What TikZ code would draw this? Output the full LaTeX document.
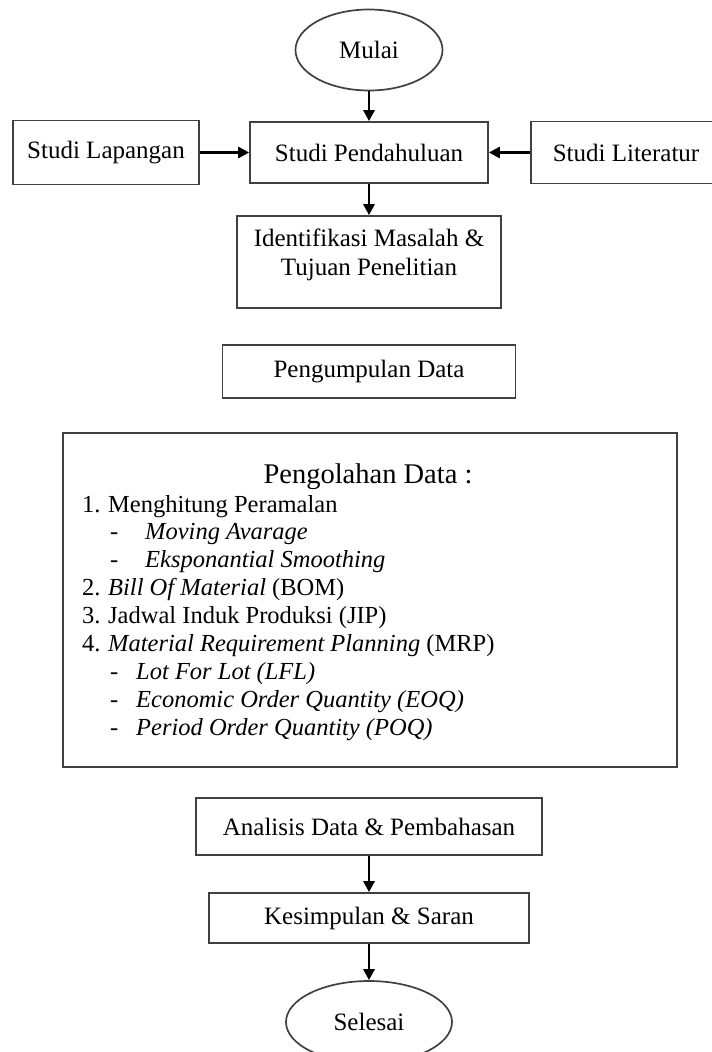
\documentclass[tikz,border=0pt]{standalone}
\usepackage{fontspec}
\setmainfont{Liberation Serif}
\usetikzlibrary{shapes.geometric,arrows.meta}

\begin{document}
\begin{tikzpicture}[x=1pt,y=-1pt,
 box/.style={rectangle,draw=black!75,line width=1.7pt,inner sep=0pt,
  font=\fontsize{25}{29}\selectfont},
 terminal/.style={box,ellipse},
 flow/.style={line width=2.8pt,-{Triangle[length=11pt,width=11pt]}},
 item/.style={anchor=base west,inner sep=0pt,font=\fontsize{24.5}{29}\selectfont}]
 \clip (0,0) rectangle (712,1052);
 % top part
 \node[terminal,minimum width=147,minimum height=81] (mulai) at (369,50) {Mulai};
 \node[box,minimum width=238,minimum height=61] (pend) at (369,152.5) {Studi Pendahuluan};
 \node[box,minimum width=186,minimum height=64] (lap) at (106,152.5) {Studi Lapangan};
 \node[box,minimum width=190,minimum height=62] (lit) at (626,152.5) {Studi Literatur};
 \node[box,minimum width=264,minimum height=92] (iden) at (369,262) {};
 \node[anchor=north,align=center,inner sep=0pt,font=\fontsize{25}{29}\selectfont]
  (identxt) at (369,229) {Identifikasi Masalah \&\\Tujuan Penelitian};
 \node[box,minimum width=293,minimum height=53] (kumpul) at (369,371.5) {Pengumpulan Data};
 % pengolahan data
 \node[box,minimum width=614,minimum height=334] (olah) at (370,600) {};
 \node[anchor=base,inner sep=0pt,font=\fontsize{28.5}{34}\selectfont]
  (judul) at (368,483) {Pengolahan Data :};
 \foreach \M/\A/\B/\T [count=\i] in {
  1./82/108/{Menghitung Peramalan},
  -/110/145/{\textit{Moving Avarage}},
  -/110/145/{\textit{Eksponantial Smoothing}},
  2./82/108/{\textit{Bill Of Material} (BOM)},
  3./82/108/{Jadwal Induk Produksi (JIP)},
  4./82/108/{\textit{Material Requirement Planning} (MRP)},
  -/110/136/{\textit{Lot For Lot (LFL)}},
  -/110/136/{\textit{Economic Order Quantity (EOQ)}},
  -/110/136/{\textit{Period Order Quantity (POQ)}}}
  {\node[item] (m\i) at (\A,{512+27.9*(\i-1)}) {\M};
   \node[item] (t\i) at (\B,{512+27.9*(\i-1)}) {\T};}
 % bottom part
 \node[box,minimum width=346,minimum height=57] (anal) at (369,826.5) {Analisis Data \& Pembahasan};
 \node[box,minimum width=320,minimum height=50] (simpul) at (369,918) {Kesimpulan \& Saran};
 \node[terminal,minimum width=166,minimum height=82] (selesai) at (369,1022) {Selesai};
 % arrows
 \draw[flow] (mulai) -- (pend);
 \draw[flow] (lap) -- (pend);
 \draw[flow] (lit) -- (pend);
 \draw[flow] (pend) -- (iden);
 \draw[flow] (anal) -- (simpul);
 \draw[flow] (simpul) -- (selesai);
\end{tikzpicture}
\end{document}
